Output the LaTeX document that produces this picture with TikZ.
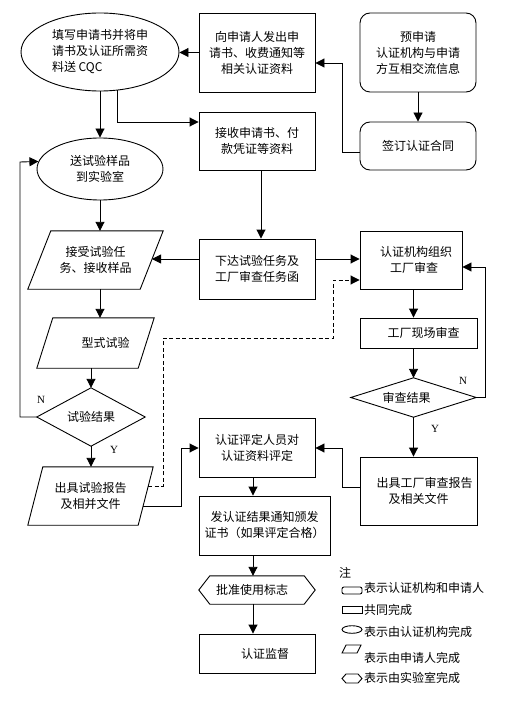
\documentclass[tikz,border=0pt]{standalone}
\usepackage{fontspec}
\setmainfont{Liberation Serif}
\newfontfamily\cjk{Noto Sans CJK SC}
\usetikzlibrary{shapes.geometric,arrows.meta}
\begin{document}
\begin{tikzpicture}[x=1pt,y=-1pt,
  every node/.style={font=\cjk\fontsize{12}{16}\selectfont, inner sep=0pt},
  line/.style={line width=0.9pt},
  arr/.style={line width=0.9pt,-{Triangle[length=9pt,width=9pt]}},
  dsh/.style={line width=0.9pt,dash pattern=on 4pt off 2.5pt,-{Triangle[length=9pt,width=9pt]}},
  box/.style={draw,line width=0.9pt,rectangle,align=center},
  rbox/.style={box,rounded corners=10pt},
  ghost/.style={rectangle,align=center},
  ell/.style={draw,line width=0.9pt,ellipse,align=center},
  lab/.style={font=\rmfamily\fontsize{11}{13}\selectfont},
  leg/.style={anchor=west}
]
\useasboundingbox[fill=white] (0,0) rectangle (525,722);

% ---- nodes ----
\node[ell,minimum width=158pt,minimum height=78pt,align=left] (e1) at (100,52) {填写申请书并将申\\请书及认证所需资\\料送 CQC};
\node[box,minimum width=116pt,minimum height=79pt] (b1) at (257,52.5) {向申请人发出申\\请书、收费通知等\\相关认证资料};
\node[rbox,minimum width=116pt,minimum height=79pt] (r1) at (418,52.5) {预申请\\认证机构与申请\\方互相交流信息};
\node[rbox,minimum width=116pt,minimum height=48pt] (r2) at (418,146) {签订认证合同};
\node[box,minimum width=116pt,minimum height=58pt] (b2) at (257,141) {接收申请书、付\\款凭证等资料};
\node[ell,minimum width=126pt,minimum height=62pt] (e2) at (100,169) {送试验样品\\到实验室};

\node[ghost,minimum width=135pt,minimum height=58pt] (p1) at (95.5,260) {接受试验任\\务、接收样品};
\draw[line] ([xshift=23pt]p1.north west) -- (p1.north east) -- ([xshift=-23pt]p1.south east) -- (p1.south west) -- cycle;
\node[box,minimum width=116pt,minimum height=60pt] (b3) at (257,269) {下达试验任务及\\工厂审查任务函};
\node[box,minimum width=102pt,minimum height=58pt] (b4) at (411,260) {\hspace*{10pt}认证机构组织\\\hspace*{6pt}工厂审查};

\node[ghost,minimum width=117pt,minimum height=50pt] (p2) at (95.5,343) {\hspace*{20pt}型式试验};
\draw[line] ([xshift=16pt]p2.north west) -- (p2.north east) -- ([xshift=-16pt]p2.south east) -- (p2.south west) -- cycle;
\node[box,minimum width=117pt,minimum height=30pt] (b5) at (418.5,333) {\hspace*{10pt}工厂现场审查};

\node[ghost,minimum width=108pt,minimum height=58pt] (d1) at (91,417) {试验结果};
\draw[line] (d1.north) -- (d1.east) -- (d1.south) -- (d1.west) -- cycle;
\node[ghost,minimum width=125pt,minimum height=39pt] (d2) at (413.5,397.5) {审查结果\hspace*{14pt}};
\draw[line] (d2.north) -- (d2.east) -- (d2.south) -- (d2.west) -- cycle;

\node[box,minimum width=116pt,minimum height=59pt] (b6) at (257,447.5) {认证评定人员对\\认证资料评定};
\node[ghost,minimum width=125pt,minimum height=58pt] (p3) at (90.5,496) {出具试验报告\\及相并文件};
\draw[line] ([xshift=15pt]p3.north west) -- (p3.north east) -- ([xshift=-15pt]p3.south east) -- (p3.south west) -- cycle;
\node[box,minimum width=117pt,minimum height=68pt] (b7) at (418.5,491) {\hspace*{12pt}出具工厂审查报告\\及相关文件};
\node[box,minimum width=131pt,minimum height=59pt] (b8) at (264.5,525.5) {发认证结果通知颁发\\证书（如果评定合格）};
\node[ghost,minimum width=116pt,minimum height=28pt] (h1) at (257,590) {批准使用标志\hspace*{10pt}};
\draw[line] (h1.west) -- ([xshift=11pt]h1.north west) -- ([xshift=-11pt]h1.north east) -- (h1.east) -- ([xshift=-11pt]h1.south east) -- ([xshift=11pt]h1.south west) -- cycle;
\node[box,minimum width=116pt,minimum height=39pt] (b9) at (257,653.5) {\hspace*{16pt}认证监督};

% ---- helper coordinates ----
\coordinate (k1) at (342,63);
\coordinate (k2) at (342,448);
\coordinate (k3) at (181,448);
\coordinate (k4) at (163,338);
\coordinate (k5) at (333,280);
\coordinate (k6) at (485,267);
\coordinate (fb) at (20,162);
\coordinate (p1r) at (152,259);
\coordinate (p3d) at (148,486);
\coordinate (p3s) at (143,506);
\coordinate (cx) at (253,0);

% ---- connectors ----
\draw[arr] (b1.west) -- (b1.west -| e1.east);
\draw[arr] ([yshift=-6pt]r2.west) -| (k1) -- (k1 -| b1.east);
\draw[arr] (r1.south) -- (r2.north);
\draw[arr] (e1.south) -- (e2.north);
\draw[arr] (e1.-65) |- ([yshift=19pt]b2.west);
\draw[arr] ([xshift=4pt]b2.south) -- ([xshift=4pt]b3.north);
\draw[arr] ([yshift=10pt]b3.west) -- (p1r);
\draw[arr] ([yshift=10pt]b3.east) -- ([yshift=10pt]b3.east -| b4.west);
\draw[arr] (e2.south) -- (e2.south |- p1.north);
\draw[arr] (p1.south -| e2.south) -- (p2.north -| e2.south);
\draw[arr] (p2.south -| d1.north) -- (d1.north);
\draw[arr] (d1.west) -| (fb) -- (e2.173);
\draw[arr] (d1.south) -- (d1.south |- p3.north);
\draw[dsh] (p3d) -| (k4) -| (k5) -- (k5 -| b4.west);
\draw[arr] (p3s) -| (k3) -- (k3 -| b6.west);
\draw[arr] ([yshift=4pt]b7.west) -| (k2) -- (k2 -| b6.east);
\draw[arr] (b4.south -| d2.north) -- (b5.north -| d2.north);
\draw[arr] (b5.south -| d2.north) -- (d2.north);
\draw[arr] (d2.east) -| (k6) -- (k6 -| b4.east);
\draw[arr] (d2.south) -- (d2.south |- b7.north);
\draw[arr] (b6.south -| cx) -- (b8.north -| cx);
\draw[arr] (b8.south -| cx) -- (h1.north -| cx);
\draw[arr] (h1.south -| cx) -- (b9.north -| cx);

% ---- Y / N labels ----
\node[lab] (n1) at (41,400) {N};
\node[lab] (y1) at (114,450) {Y};
\node[lab] (n2) at (463,381) {N};
\node[lab] (y2) at (435,429) {Y};

% ---- legend ----
\node[leg] (lz) at (339,573) {注};
\draw[line,rounded corners=2pt] (342,587) rectangle (362,594);
\node[leg] (l1) at (364,588) {表示认证机构和申请人};
\draw[line] (342,606) rectangle (362,613);
\node[leg] (l2) at (364,610) {共同完成};
\draw[line] (352,629.5) ellipse [x radius=10pt,y radius=3.8pt];
\node[leg] (l3) at (364,632) {表示由认证机构完成};
\draw[line] (346,645) -- (361,645) -- (357,653) -- (342,653) -- cycle;
\node[leg] (l4) at (364,658) {表示由申请人完成};
\draw[line] (342,678.5) -- (346,674) -- (358,674) -- (362,678.5) -- (358,683) -- (346,683) -- cycle;
\node[leg] (l5) at (364,678) {表示由实验室完成};
\end{tikzpicture}
\end{document}
